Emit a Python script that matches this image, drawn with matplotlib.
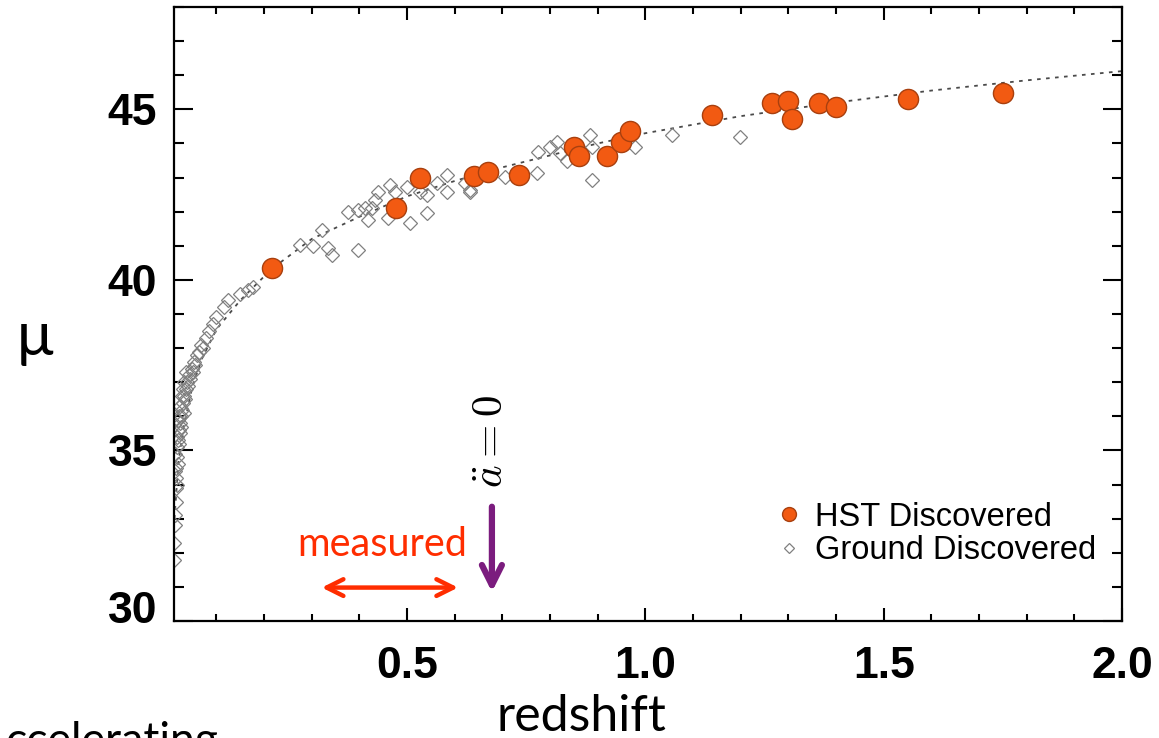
import matplotlib
matplotlib.use("Agg")
import matplotlib.pyplot as plt
from matplotlib.lines import Line2D
from matplotlib.ticker import MultipleLocator
from matplotlib.transforms import ScaledTranslation

plt.rcParams['mathtext.fontset'] = 'cm'

# ---------------- data ----------------
hst_z = [0.216, 0.476, 0.527, 0.640, 0.669, 0.735, 0.850, 0.860, 0.919, 0.948,
         0.967, 1.140, 1.265, 1.299, 1.307, 1.364, 1.400, 1.551, 1.750]
hst_mu = [40.35, 42.12, 42.99, 43.05, 43.17, 43.08, 43.90, 43.62, 43.62, 44.05,
          44.37, 44.84, 45.19, 45.25, 44.72, 45.19, 45.07, 45.31, 45.48]

ground_z = [0.012, 0.012, 0.013, 0.014, 0.015, 0.015, 0.016, 0.016, 0.017, 0.018,
            0.018, 0.019, 0.020, 0.021, 0.022, 0.023, 0.024, 0.025, 0.026, 0.028,
            0.030, 0.031, 0.033, 0.035, 0.036, 0.038, 0.040, 0.042, 0.045, 0.048,
            0.050, 0.053, 0.056, 0.060, 0.064, 0.068, 0.072, 0.078, 0.085, 0.092,
            0.100, 0.115, 0.125, 0.150, 0.166, 0.176,
            0.013, 0.014, 0.017, 0.019, 0.021, 0.024, 0.027, 0.029, 0.032, 0.037,
            0.275, 0.302, 0.321, 0.334, 0.342, 0.397, 0.376, 0.397, 0.418, 0.432,
            0.439, 0.464, 0.474, 0.499, 0.506, 0.541, 0.541, 0.583, 0.583, 0.621,
            0.632, 0.562, 0.527, 0.460, 0.426, 0.411,
            0.632, 0.705, 0.772, 0.774, 0.800, 0.814, 0.821, 0.835, 0.884, 0.888,
            0.888, 0.978, 1.056, 1.198]
ground_mu = [31.8, 32.3, 32.8, 33.1, 33.5, 33.9, 34.2, 34.5, 34.0, 34.8,
             35.1, 34.6, 35.3, 35.6, 35.2, 35.8, 35.5, 36.0, 35.7, 36.2,
             36.4, 36.1, 36.6, 36.5, 36.8, 37.0, 36.9, 37.2, 37.1, 37.4,
             37.3, 37.6, 37.5, 37.8, 37.9, 38.1, 38.0, 38.3, 38.5, 38.7,
             38.9, 39.2, 39.4, 39.6, 39.7, 39.8,
             34.4, 34.9, 35.4, 35.9, 36.0, 36.3, 36.6, 36.8, 37.0, 37.3,
             41.03, 41.00, 41.47, 40.94, 40.73, 40.88, 41.99, 42.05, 41.76, 42.35,
             42.58, 42.79, 42.58, 42.73, 41.67, 41.96, 42.49, 43.08, 42.58, 42.84,
             42.58, 42.84, 42.58, 41.82, 42.11, 42.11,
             42.64, 43.02, 43.14, 43.75, 43.90, 44.05, 43.72, 43.50, 44.25, 43.90,
             42.93, 43.90, 44.25, 44.19]

model_z = [0.012, 0.02, 0.03, 0.05, 0.07, 0.10, 0.15, 0.20, 0.233, 0.30, 0.40,
           0.45, 0.50, 0.60, 0.70, 0.80, 0.90, 1.00, 1.20, 1.40, 1.60, 1.80, 2.00]
model_mu = [33.0, 34.6, 35.6, 36.9, 37.7, 38.55, 39.4, 40.1, 40.5, 41.2, 41.85,
            42.15, 42.45, 42.9, 43.3, 43.65, 44.0, 44.3, 44.8, 45.2, 45.55, 45.85, 46.12]

x_ticks = [0.5, 1.0, 1.5, 2.0]
x_ticklabels = ["0.5", "1.0", "1.5", "2.0"]
y_ticks = [30, 35, 40, 45]
y_ticklabels = ["30", "35", "40", "45"]

# ---------------- figure ----------------
W, H = 1159, 738
fig = plt.figure(figsize=(W / 100, H / 100), dpi=100, facecolor='white')
ax = fig.add_axes([174 / W, 1 - 621 / H, (1122 - 174) / W, (621 - 7) / H])

ax.plot(model_z, model_mu, linestyle=(0, (2.0, 3.0)), color='#4a4a4a', lw=1.3, zorder=1)
ax.plot(ground_z, ground_mu, linestyle='none', marker='D', markersize=7,
        markerfacecolor='none', markeredgecolor='#808080', markeredgewidth=0.9, zorder=2)
ax.plot(hst_z, hst_mu, linestyle='none', marker='o', markersize=14.5,
        markerfacecolor='#F25A12', markeredgecolor='#A8400F', markeredgewidth=1.0, zorder=3)

ax.set_xlim(0.011, 2.0)
ax.set_ylim(30, 48)
ax.set_xticks(x_ticks)
ax.set_xticklabels(x_ticklabels)
ax.set_yticks(y_ticks)
ax.set_yticklabels(y_ticklabels)
ax.xaxis.set_minor_locator(MultipleLocator(0.1))
ax.yaxis.set_minor_locator(MultipleLocator(1))

for s in ax.spines.values():
    s.set_linewidth(1.6)
ax.tick_params(axis='both', which='both', direction='in', top=True, right=True, width=1.5)
ax.tick_params(axis='y', which='major', length=13.5, pad=12)
ax.tick_params(axis='y', which='minor', length=7)
ax.tick_params(axis='x', which='major', length=9.5, pad=18)
ax.tick_params(axis='x', which='minor', length=5)
for lab in ax.get_xticklabels() + ax.get_yticklabels():
    lab.set_fontfamily('Liberation Sans')
    lab.set_fontweight('bold')
    lab.set_fontsize(32)
lab30 = ax.get_yticklabels()[0]
lab30.set_transform(lab30.get_transform() + ScaledTranslation(0, 0.14, fig.dpi_scale_trans))

# axis labels
fig.text(35 / W, 1 - 337 / H, 'μ', family=['Lato', 'DejaVu Sans'], fontsize=44,
         ha='center', va='center')
fig.text(581 / W, 1 - 731 / H, 'redshift', family=['Lato', 'DejaVu Sans'], fontsize=36,
         ha='center', va='baseline')
fig.text(5 / W, 1 - 754 / H, 'ccelerating', family=['Lato', 'DejaVu Sans'], fontsize=32,
         ha='left', va='baseline')

# annotations
ax.annotate('', xy=(0.321, 30.98), xytext=(0.607, 30.98),
            arrowprops=dict(arrowstyle='<->', color='#FF2D00', lw=3.2,
                            mutation_scale=30, shrinkA=0, shrinkB=0))
ax.text(0.447, 32.25, 'measured', color='#FF2D00', family=['Lato', 'DejaVu Sans'],
        fontsize=28.5, ha='center', va='center')
ax.annotate('', xy=(0.678, 30.85), xytext=(0.678, 33.35),
            arrowprops=dict(arrowstyle='->', color='#7B1C7E', lw=4.5,
                            mutation_scale=36, shrinkA=0, shrinkB=0))
ax.text(0.675, 35.25, r'$\ddot{a}=0$', rotation=90, fontsize=31,
        ha='center', va='center')

# legend
h1 = Line2D([], [], linestyle='none', marker='o', markersize=10,
            markerfacecolor='#F25A12', markeredgecolor='#A8400F', markeredgewidth=1.0)
h2 = Line2D([], [], linestyle='none', marker='D', markersize=5.5,
            markerfacecolor='none', markeredgecolor='#808080', markeredgewidth=0.9)
leg = ax.legend([h1, h2], ['HST Discovered', 'Ground Discovered'],
                loc='center left', bbox_to_anchor=(777 / W, 1 - 534 / H),
                bbox_transform=fig.transFigure, frameon=False,
                prop={'family': 'Liberation Sans', 'size': 23.5},
                handlelength=0.75, handletextpad=0.4, labelspacing=0.08,
                borderpad=0, borderaxespad=0)

fig.savefig('out.png', dpi=100, facecolor='white')
